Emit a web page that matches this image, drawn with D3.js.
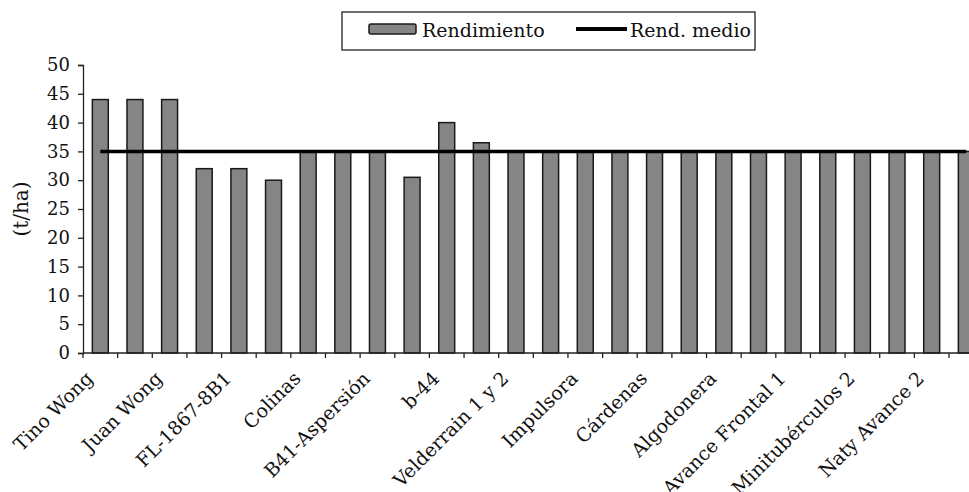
<!DOCTYPE html>
<html><head><meta charset="utf-8">
<script src="https://cdn.jsdelivr.net/npm/d3@7"></script>
<style>
html,body{margin:0;padding:0;background:#fff;}
svg{display:block;}
</style></head>
<body>
<svg id="chart" width="969" height="492"></svg>
<script>
const tickLabels = ["Tino Wong","","Juan Wong","","FL-1867-8B1","","Colinas","","B41-Aspersión","","b-44","","Velderrain 1 y 2","","Impulsora","","Cárdenas","","Algodonera","","Avance Frontal 1","","Minitubérculos 2","","Naty Avance 2",""];
const rendimiento = [44,44,44,32,32,30,35,35,35,30.5,40,36.5,35,35,35,35,35,35,35,35,35,35,35,35,35,35];
const rendMedio = [35,35,35,35,35,35,35,35,35,35,35,35,35,35,35,35,35,35,35,35,35,35,35,35,35,35];
const yTicks = [0,5,10,15,20,25,30,35,40,45,50];
const seriesNames = ["Rendimiento","Rend. medio"];

(function(){
const FONT = "DejaVu Serif";
const svg = d3.select("#chart");
const mLeft = 83, mTop = 65, mBottom = 353, step = 34.64;
const idx = d3.range(rendimiento.length);
const x = d3.scaleBand().domain(idx).range([mLeft, mLeft + step*idx.length]).paddingInner(0.54).paddingOuter(0.27);
const y = d3.scaleLinear().domain([0,50]).range([mBottom, mTop]);

function styleText(sel, size){
  sel.attr("font-family", FONT).style("font-family", FONT).style("font-size", size+"px").attr("fill","#111");
}

// y axis
const yAxis = svg.append("g").attr("transform",`translate(${mLeft},0)`)
  .call(d3.axisLeft(y).tickValues(yTicks).tickSize(5).tickPadding(8));
yAxis.attr("font-family", FONT);
yAxis.select(".domain").attr("stroke","#222").attr("stroke-width",1.3);
yAxis.selectAll(".tick line").attr("stroke","#222").attr("stroke-width",1.3);
styleText(yAxis.selectAll("text"), 18);

// bars
svg.append("g").selectAll("rect").data(rendimiento).join("rect")
  .attr("x",(d,i)=>x(i)).attr("width",x.bandwidth())
  .attr("y",d=>y(d)).attr("height",d=>mBottom-y(d))
  .attr("fill","#858585").attr("stroke","#1a1a1a").attr("stroke-width",1.5);

// x axis
const xb = d3.scaleLinear().domain([0, idx.length]).range([mLeft, mLeft + step*idx.length]);
const xAxis = svg.append("g").attr("transform",`translate(0,${mBottom})`);
xAxis.append("line").attr("x1",mLeft).attr("x2",mLeft+step*idx.length).attr("stroke","#222").attr("stroke-width",1.3);
xAxis.selectAll("line.t").data(d3.range(idx.length+1)).join("line").attr("class","t")
  .attr("x1",d=>xb(d)).attr("x2",d=>xb(d)).attr("y1",0).attr("y2",5).attr("stroke","#222").attr("stroke-width",1.3);
const xl = xAxis.selectAll("text").data(tickLabels).join("text")
  .attr("transform",(d,i)=>`translate(${x(i)+x.bandwidth()/2-13},${20}) rotate(-45)`)
  .attr("text-anchor","end").attr("dy","0.5em")
  .text(d=>d);
styleText(xl, 19);

// mean line
const line = d3.line().x((d,i)=>x(i)+x.bandwidth()/2).y(d=>y(d));
svg.append("path").datum(rendMedio).attr("d",line).attr("fill","none").attr("stroke","#000").attr("stroke-width",3.5);

// y title
const yt = svg.append("text").attr("transform",`translate(28,${(mTop+mBottom)/2}) rotate(-90)`)
  .attr("text-anchor","middle").text("(t/ha)");
styleText(yt, 20);

// legend
const lg = svg.append("g");
lg.append("rect").attr("x",342).attr("y",12).attr("width",413).attr("height",38).attr("fill","#fff").attr("stroke","#222").attr("stroke-width",1.3);
lg.append("rect").attr("x",369).attr("y",24).attr("width",47).attr("height",10).attr("rx",2)
  .attr("fill","#858585").attr("stroke","#1a1a1a").attr("stroke-width",1.5);
styleText(lg.append("text").attr("x",422).attr("y",37).text(seriesNames[0]), 19);
lg.append("line").attr("x1",576).attr("x2",627).attr("y1",29).attr("y2",29).attr("stroke","#000").attr("stroke-width",4);
styleText(lg.append("text").attr("x",630).attr("y",37).text(seriesNames[1]), 19);
})();
</script>
</body></html>
